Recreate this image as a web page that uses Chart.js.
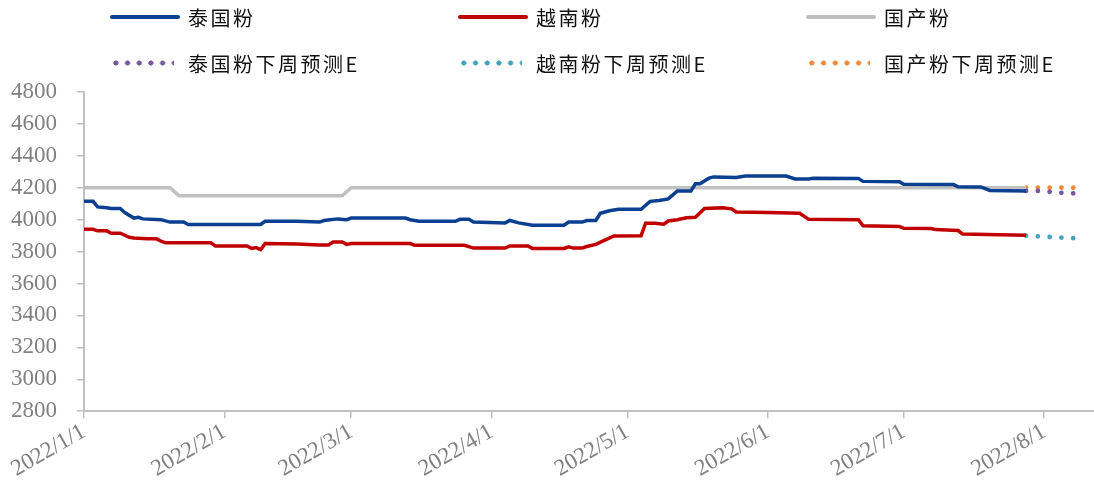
<!DOCTYPE html>
<html>
<head>
<meta charset="utf-8">
<script src="https://cdn.jsdelivr.net/npm/chart.js@4.4.1/dist/chart.umd.min.js"></script>
<style>
  html, body { margin: 0; padding: 0; background: #fff; }
  #wrap { position: relative; width: 1094px; height: 497px; }
  #legend { position: absolute; left: 0; top: 0; width: 1094px; height: 85px; }
  .item { position: absolute; height: 24px; display: flex; align-items: center; }
  .sample { width: 70px; height: 4px; border-radius: 2px; margin-right: 8px; }
  .dots { width: 64px; height: 6px; margin-right: 14px; }
  .text { font-family: "Noto Sans CJK SC", sans-serif; font-size: 20px; color: #111; letter-spacing: 2.5px; }
</style>
</head>
<body>
<div id="wrap">
  <canvas id="chart"></canvas>
  <div id="legend"></div>
</div>
<script>
// x axis labels (first day of each month)
const tickLabels = ['2022/1/1', '2022/2/1', '2022/3/1', '2022/4/1', '2022/5/1', '2022/6/1', '2022/7/1', '2022/8/1'];
const axisEnd = '2022/8/12';

// 泰国粉
const thaiDates = ['2022/1/1', '2022/1/3', '2022/1/4', '2022/1/6', '2022/1/7', '2022/1/9', '2022/1/10', '2022/1/12', '2022/1/13', '2022/1/14',
  '2022/1/18', '2022/1/20', '2022/1/23', '2022/1/24', '2022/2/9', '2022/2/10', '2022/2/17', '2022/2/22', '2022/2/23', '2022/2/26',
  '2022/2/28', '2022/3/1', '2022/3/13', '2022/3/14', '2022/3/16', '2022/3/24', '2022/3/25', '2022/3/27', '2022/3/28', '2022/4/4',
  '2022/4/5', '2022/4/7', '2022/4/10', '2022/4/17', '2022/4/18', '2022/4/21', '2022/4/22', '2022/4/24', '2022/4/25', '2022/4/27',
  '2022/4/29', '2022/5/4', '2022/5/6', '2022/5/8', '2022/5/10', '2022/5/12', '2022/5/15', '2022/5/16', '2022/5/17', '2022/5/19',
  '2022/5/20', '2022/5/25', '2022/5/27', '2022/6/5', '2022/6/7', '2022/6/10', '2022/6/11', '2022/6/21', '2022/6/22', '2022/6/30',
  '2022/7/1', '2022/7/12', '2022/7/13', '2022/7/18', '2022/7/20', '2022/7/28'];
const thaiValues = [4115, 4115, 4080, 4075, 4070, 4070, 4045, 4010, 4015, 4005,
  4000, 3985, 3985, 3970, 3970, 3990, 3990, 3985, 3995, 4005,
  4000, 4010, 4010, 4000, 3990, 3990, 4002, 4002, 3985, 3980,
  3995, 3980, 3965, 3965, 3985, 3985, 3995, 3995, 4040, 4056,
  4065, 4065, 4115, 4120, 4130, 4180, 4180, 4225, 4225, 4260,
  4268, 4265, 4273, 4273, 4255, 4255, 4260, 4258, 4240, 4238,
  4222, 4220, 4206, 4205, 4183, 4180];

// 越南粉
const vietDates = ['2022/1/1', '2022/1/3', '2022/1/4', '2022/1/6', '2022/1/7', '2022/1/9', '2022/1/11', '2022/1/12', '2022/1/15', '2022/1/17',
  '2022/1/18', '2022/1/19', '2022/1/29', '2022/1/30', '2022/2/6', '2022/2/7', '2022/2/8', '2022/2/9', '2022/2/10', '2022/2/17',
  '2022/2/22', '2022/2/24', '2022/2/25', '2022/2/27', '2022/2/28', '2022/3/1', '2022/3/14', '2022/3/15', '2022/3/26', '2022/3/28',
  '2022/4/4', '2022/4/5', '2022/4/9', '2022/4/10', '2022/4/17', '2022/4/18', '2022/4/19', '2022/4/21', '2022/4/22', '2022/4/24',
  '2022/4/26', '2022/4/28', '2022/5/4', '2022/5/5', '2022/5/7', '2022/5/9', '2022/5/10', '2022/5/12', '2022/5/14', '2022/5/16',
  '2022/5/18', '2022/5/22', '2022/5/24', '2022/5/25', '2022/6/1', '2022/6/8', '2022/6/10', '2022/6/21', '2022/6/22', '2022/6/30',
  '2022/7/1', '2022/7/7', '2022/7/8', '2022/7/13', '2022/7/14', '2022/7/22', '2022/7/28'];
const vietValues = [3940, 3940, 3930, 3930, 3915, 3915, 3890, 3885, 3880, 3880,
  3865, 3855, 3855, 3835, 3835, 3820, 3825, 3812, 3850, 3848,
  3842, 3842, 3860, 3860, 3845, 3850, 3850, 3840, 3840, 3822,
  3822, 3835, 3835, 3820, 3820, 3830, 3822, 3822, 3832, 3845,
  3872, 3898, 3900, 3978, 3978, 3972, 3992, 4000, 4012, 4015,
  4070, 4075, 4068, 4048, 4045, 4040, 4002, 4000, 3962, 3958,
  3946, 3945, 3938, 3932, 3910, 3905, 3902];

// 国产粉
const domesticDates = ['2022/1/1', '2022/1/20', '2022/1/22', '2022/2/27', '2022/3/1', '2022/7/28'];
const domesticValues = [4200, 4200, 4150, 4150, 4200, 4200];

// 下周预测E
const thaiForecastDates = ['2022/7/28', '2022/7/31', '2022/8/6', '2022/8/10'];
const thaiForecastValues = [4180, 4180, 4165, 4165];
const vietForecastDates = ['2022/7/28', '2022/8/10'];
const vietForecastValues = [3900, 3880];
const domesticForecastDates = ['2022/7/28', '2022/8/10'];
const domesticForecastValues = [4200, 4200];

function dayOf(s) {
  const p = s.split('/').map(Number);
  return (Date.UTC(p[0], p[1] - 1, p[2]) - Date.UTC(2022, 0, 1)) / 86400000;
}
function points(dates, values) {
  return dates.map((d, i) => ({ x: dayOf(d), y: values[i] }));
}

const solid = (label, color, dates, values) => ({
  label, data: points(dates, values), borderColor: color, backgroundColor: color,
  borderWidth: 3.5, pointRadius: 0, tension: 0, dotted: false
});
const dotted = (label, color, dates, values) => ({
  label, data: points(dates, values), borderColor: color, backgroundColor: color,
  borderWidth: 4.8, borderDash: [0, 11.8], borderCapStyle: 'round', pointRadius: 0, tension: 0, dotted: true
});

const datasets = [
  solid('泰国粉', '#0b3f8f', thaiDates, thaiValues),
  solid('越南粉', '#c00000', vietDates, vietValues),
  solid('国产粉', '#c0c0c0', domesticDates, domesticValues),
  dotted('泰国粉下周预测E', '#75599c', thaiForecastDates, thaiForecastValues),
  dotted('越南粉下周预测E', '#45a2ba', vietForecastDates, vietForecastValues),
  dotted('国产粉下周预测E', '#ec8a3c', domesticForecastDates, domesticForecastValues)
];

const tickFont = { family: '"Liberation Serif", "Times New Roman", serif', size: 23 };

const chart = new Chart(document.getElementById('chart'), {
  type: 'line',
  data: { datasets },
  options: {
    responsive: true,
    maintainAspectRatio: false,
    animation: false,
    layout: { padding: { top: 92, left: 10, right: -3, bottom: 14 } },
    plugins: { legend: { display: false }, tooltip: { enabled: false } },
    scales: {
      x: {
        type: 'linear',
        min: 0,
        max: dayOf(axisEnd),
        afterBuildTicks: axis => { axis.ticks = tickLabels.map(t => ({ value: dayOf(t) })); },
        // rotated labels may hang past the plot edge; don't let them shrink the plot
        afterFit: axis => { axis.paddingLeft = 0; axis.paddingRight = 0; },
        ticks: {
          autoSkip: false, minRotation: 30, maxRotation: 30, padding: 0,
          color: '#808080', font: tickFont,
          callback: (v, i) => tickLabels[i]
        },
        grid: { drawOnChartArea: false, drawTicks: true, tickLength: 7, color: '#c0c0c0', lineWidth: 1.5 },
        border: { color: '#c0c0c0', width: 2 }
      },
      y: {
        min: 2800, max: 4800,
        afterFit: axis => { axis.width = 74; },
        ticks: { stepSize: 200, color: '#808080', font: tickFont, padding: 20, callback: v => String(v) },
        grid: { drawOnChartArea: false, drawTicks: true, tickLength: 7, color: '#c0c0c0', lineWidth: 1.5 },
        border: { color: '#c0c0c0', width: 2 }
      }
    }
  }
});

// legend: three columns, solid series on first row, forecasts on second
const legend = document.getElementById('legend');
const colX = [110, 458, 806];
const rowY = [5, 51];
datasets.forEach((ds, i) => {
  const item = document.createElement('div');
  item.className = 'item';
  item.style.left = colX[i % 3] + 'px';
  item.style.top = rowY[Math.floor(i / 3)] + 'px';
  const mark = document.createElement('div');
  if (ds.dotted) {
    mark.className = 'dots';
    mark.style.background = `radial-gradient(circle, ${ds.borderColor} 2.3px, transparent 2.8px) 0 0 / 11.7px 6px repeat-x`;
  } else {
    mark.className = 'sample';
    mark.style.background = ds.borderColor;
  }
  const text = document.createElement('span');
  text.className = 'text';
  text.textContent = ds.label;
  item.appendChild(mark);
  item.appendChild(text);
  legend.appendChild(item);
});
</script>
</body>
</html>
